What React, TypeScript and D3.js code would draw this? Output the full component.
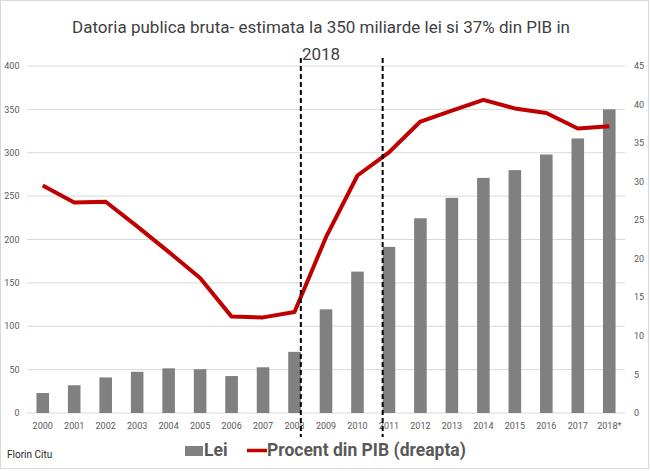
import React from 'react';
import * as d3 from 'd3';

const years = ['2000', '2001', '2002', '2003', '2004', '2005', '2006', '2007', '2008', '2009',
  '2010', '2011', '2012', '2013', '2014', '2015', '2016', '2017', '2018*'];
const leiValues = [23, 32, 41, 47.5, 51.5, 50.5, 42.6, 52.7, 70.5, 119.5,
  163, 191.5, 224.5, 248, 271, 280, 298, 316.5, 350];
const pibValues = [29.5, 27.3, 27.4, 24.2, 20.9, 17.5, 12.5, 12.4, 13.1, 22.8,
  30.8, 33.8, 37.8, 39.2, 40.6, 39.5, 38.9, 36.9, 37.2];
const leftTicks = [0, 50, 100, 150, 200, 250, 300, 350, 400];
const rightTicks = [0, 5, 10, 15, 20, 25, 30, 35, 40, 45];
// hand-drawn markers: after the 2008 bar and before the 2011 bar
const markers = [
  { year: '2008', side: 'right' },
  { year: '2011', side: 'left' },
];
const titleLines = ['Datoria publica bruta- estimata la 350 miliarde lei si 37% din PIB in', '2018'];

const W = 650;
const H = 471;
const plot = { left: 27, right: 625, top: 66, bottom: 413 };
const font = '"Roboto", sans-serif';

const App: React.FC = () => {
  const x = d3.scaleBand<string>().domain(years).range([plot.left, plot.right]).padding(0);
  const bw = x.bandwidth();
  const barW = bw * 0.4;
  const yLeft = d3.scaleLinear().domain([0, 400]).range([plot.bottom, plot.top]);
  const yRight = d3.scaleLinear().domain([0, 45]).range([plot.bottom, plot.top]);

  const line = d3.line<number>()
    .x((_, i) => (x(years[i]) as number) + bw / 2)
    .y(d => yRight(d));

  return (
    <div style={{ position: 'absolute', left: 0, top: 0 }}>
      <svg width={W} height={H} style={{ display: 'block', background: '#fff' }}>
        <rect x={0.5} y={0.5} width={W - 2} height={H - 3} fill="#fff" stroke="#d9d9d9" />

        {/* title */}
        {titleLines.map((t, i) => (
          <text key={i} x={321} y={33 + i * 27} textAnchor="middle"
            style={{ fontFamily: font, fontSize: 17, fill: '#404040' }}>{t}</text>
        ))}

        {/* grid */}
        {leftTicks.map(t => (
          <line key={t} x1={plot.left} x2={plot.right} y1={yLeft(t)} y2={yLeft(t)}
            stroke="#d9d9d9" strokeWidth={1} />
        ))}

        {/* left axis labels */}
        {leftTicks.map(t => (
          <text key={t} x={19.5} y={yLeft(t)} dy="0.35em" textAnchor="end"
            style={{ fontFamily: font, fontSize: 9, fill: '#595959' }}>{t}</text>
        ))}
        {/* right axis labels */}
        {rightTicks.map(t => (
          <text key={t} x={634} y={yRight(t)} dy="0.35em" textAnchor="start"
            style={{ fontFamily: font, fontSize: 9, fill: '#595959' }}>{t}</text>
        ))}

        {/* bars */}
        {years.map((yr, i) => (
          <rect key={yr} x={(x(yr) as number) + (bw - barW) / 2} y={yLeft(leiValues[i])}
            width={barW} height={yLeft(0) - yLeft(leiValues[i])} fill="#808080" />
        ))}

        {/* x labels */}
        {years.map(yr => (
          <text key={yr} x={(x(yr) as number) + bw / 2} y={428.5} textAnchor="middle"
            style={{ fontFamily: font, fontSize: 9, fill: '#595959' }}>{yr}</text>
        ))}

        {/* line */}
        <path d={line(pibValues) || ''} fill="none" stroke="#c00000" strokeWidth={4}
          strokeLinejoin="round" />

        {/* dashed markers */}
        {markers.map(m => {
          const cx = (x(m.year) as number) + bw / 2 + (m.side === 'right' ? barW / 2 : -barW / 2);
          return (
            <line key={m.year} x1={cx} x2={cx} y1={58} y2={437}
              stroke="#000" strokeWidth={2} strokeDasharray="5,3" />
          );
        })}

        {/* legend */}
        <rect x={185} y={446} width={18} height={10} fill="#808080" />
        <text x={204} y={456} style={{ fontFamily: font, fontSize: 17.5, fontWeight: 'bold', fill: '#595959' }}>Lei</text>
        <line x1={247} x2={267} y1={450.5} y2={450.5} stroke="#c00000" strokeWidth={3.5} />
        <text x={267} y={456} style={{ fontFamily: font, fontSize: 17.5, fontWeight: 'bold', fill: '#595959' }}>
          Procent din PIB (dreapta)
        </text>

        <text x={7} y={458} style={{ fontFamily: font, fontSize: 10, fill: '#262626' }}>Florin Citu</text>
      </svg>
    </div>
  );
};

export default App;
